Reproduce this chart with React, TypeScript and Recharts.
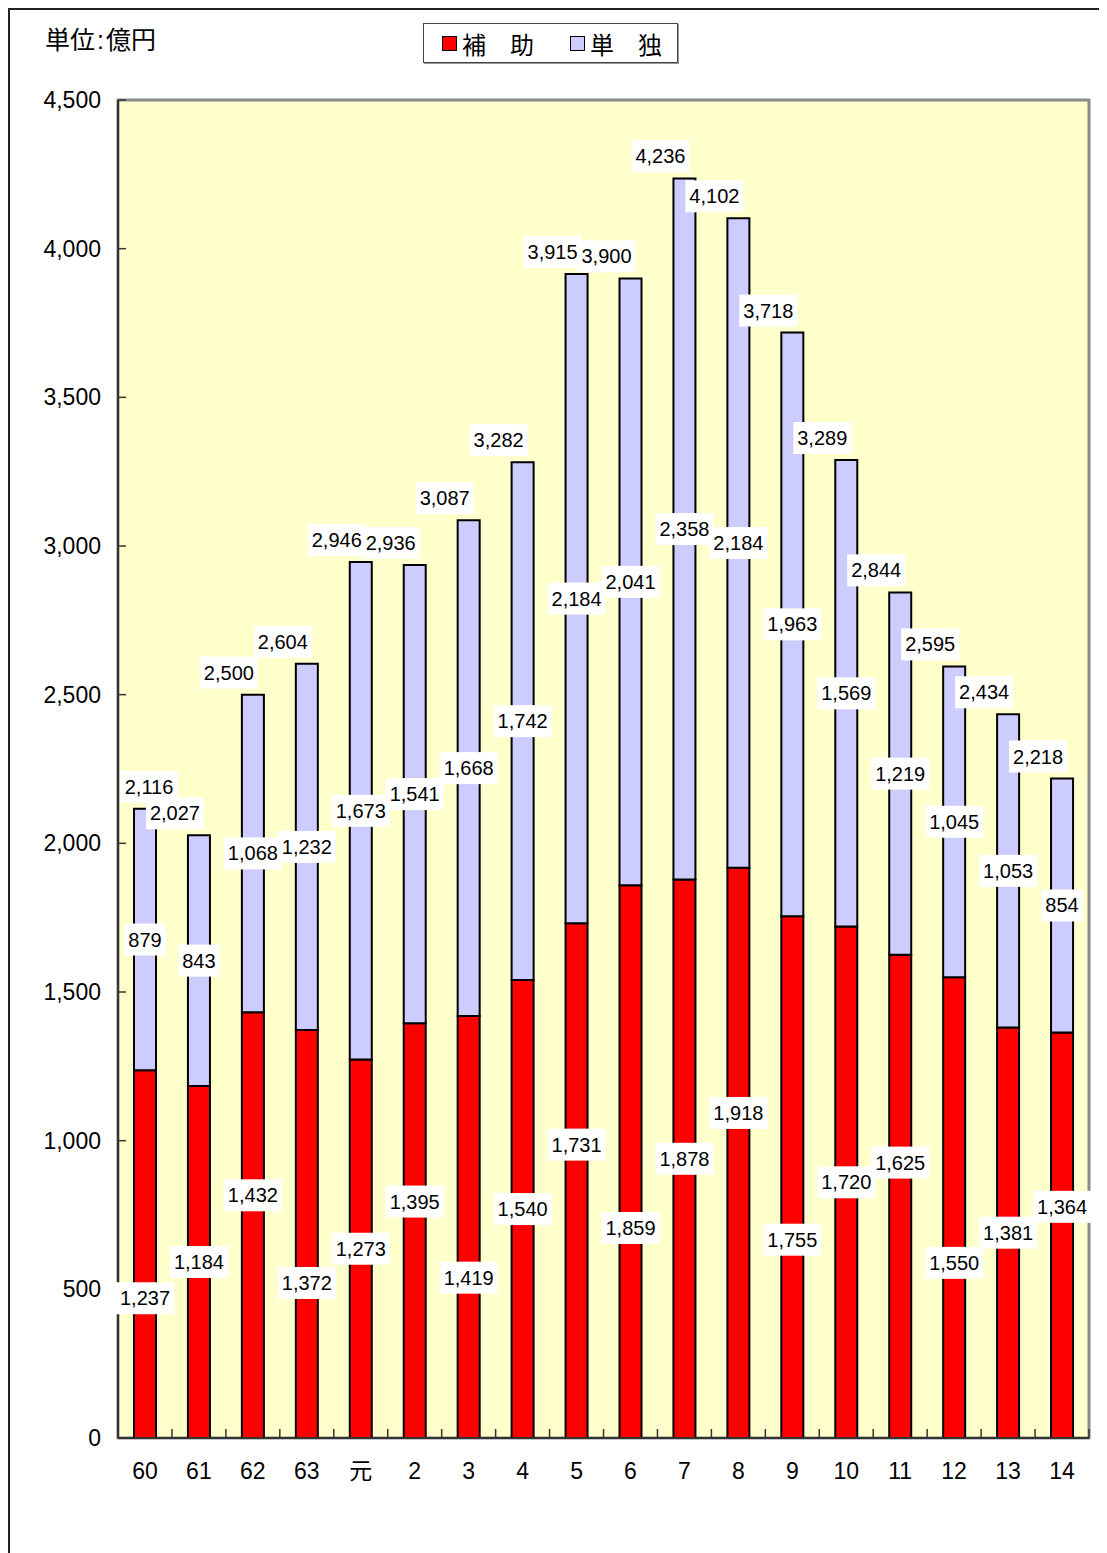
import React from 'react';
import { ComposedChart, Bar, XAxis, YAxis, CartesianGrid, LabelList, ReferenceArea } from 'recharts';

// fiscal years (昭和60〜平成14)
const categories = ['60', '61', '62', '63', '元', '2', '3', '4', '5', '6', '7', '8', '9', '10', '11', '12', '13', '14'];
const hojo = [1237, 1184, 1432, 1372, 1273, 1395, 1419, 1540, 1731, 1859, 1878, 1918, 1755, 1720, 1625, 1550, 1381, 1364];
const tandoku = [879, 843, 1068, 1232, 1673, 1541, 1668, 1742, 2184, 2041, 2358, 2184, 1963, 1569, 1219, 1045, 1053, 854];
const totals = [2116, 2027, 2500, 2604, 2946, 2936, 3087, 3282, 3915, 3900, 4236, 4102, 3718, 3289, 2844, 2595, 2434, 2218];
const yTicks = [0, 500, 1000, 1500, 2000, 2500, 3000, 3500, 4000, 4500];

const data = categories.map((name, i) => ({
  name,
  hojo: hojo[i],
  tandoku: tandoku[i],
  total: totals[i],
}));

const W = 1099;
const H = 1545;
const M = { top: 92, right: 18, left: 0, bottom: 75 };
const Y_W = 110;
const X_H = 40;
const BAND = (W - M.left - M.right - Y_W) / categories.length;
const PLOT_LEFT = M.left + Y_W;

const FONT = '"Liberation Sans", Arial, "Noto Sans CJK JP", sans-serif';
const LABEL_SIZE = 20;
const fmt = (v: number) => v.toLocaleString('en-US');

const boxWidth = (s: string) => {
  let w = 0;
  for (const ch of s) w += ch === ',' ? 0.278 * LABEL_SIZE : 0.556 * LABEL_SIZE;
  return w + 8;
};

// part: draw the white box or the text, so no text is hidden by a neighbour's box
const BoxLabel = ({ cx, cy, text, part }: { cx: number; cy: number; text: string; part: string }) => {
  if (part === 'box') {
    const w = boxWidth(text);
    return <rect x={cx - w / 2} y={cy - 16} width={w} height={32} fill="#ffffff" />;
  }
  return (
    <text x={cx} y={cy} textAnchor="middle" dominantBaseline="central" fontSize={LABEL_SIZE} fill="#000" fontFamily={FONT}>
      {text}
    </text>
  );
};

const getBox = (p: any) => {
  const v = p.viewBox && p.viewBox.width !== undefined ? p.viewBox : p;
  const x = Number(v.x);
  const w = Number(v.width);
  const h = Math.abs(Number(v.height));
  const y = Number(v.height) < 0 ? Number(v.y) + Number(v.height) : Number(v.y);
  return { x, y, w, h };
};

// red labels are staggered to keep them apart
const stagger = [0.38, 0.5, 0.57];

const HojoLabel = (p: any) => {
  const { x, y, w, h } = getBox(p);
  const idx = Number(p.index) || 0;
  const cy = y + h - h * stagger[idx % 3];
  return <BoxLabel part={p.part} cx={x + w / 2} cy={cy} text={fmt(Number(p.value))} />;
};

const TandokuLabel = (p: any) => {
  const { x, y, w, h } = getBox(p);
  return <BoxLabel part={p.part} cx={x + w / 2} cy={y + h / 2} text={fmt(Number(p.value))} />;
};

const TotalLabel = (p: any) => {
  const { x, y, w } = getBox(p);
  const idx = Number(p.index) || 0;
  const text = fmt(totals[idx]);
  const half = boxWidth(text) / 2;
  const cx = Math.max(x + w / 2 - 24, PLOT_LEFT + half + 2);
  return <BoxLabel part={p.part} cx={cx} cy={y - 22} text={text} />;
};

const YTick = (p: any) => {
  const { x, y, payload } = p;
  return (
    <g>
      <line x1={x} x2={x + 8} y1={y} y2={y} stroke="#333" strokeWidth={1.5} />
      <text x={x - 17} y={y} textAnchor="end" dominantBaseline="central" fontSize={23} fill="#000" fontFamily={FONT}>
        {fmt(payload.value)}
      </text>
    </g>
  );
};

const XTick = (p: any) => {
  const { x, y, payload } = p;
  const idx = p.index ?? payload.index ?? 0;
  const last = idx === categories.length - 1;
  return (
    <g>
      {idx > 0 && <line x1={x - BAND / 2} x2={x - BAND / 2} y1={y} y2={y - 9} stroke="#333" strokeWidth={1.5} />}
      {last && <line x1={x + BAND / 2} x2={x + BAND / 2} y1={y} y2={y - 9} stroke="#333" strokeWidth={1.5} />}
      <text x={x} y={y + 33} textAnchor="middle" dominantBaseline="central" fontSize={23} fill="#000" fontFamily={FONT}>
        {payload.value}
      </text>
    </g>
  );
};

const Swatch = ({ color }: { color: string }) => (
  <span
    style={{
      display: 'inline-block',
      width: 13,
      height: 13,
      background: color,
      border: '1.5px solid #000',
      marginRight: 5,
    }}
  />
);

export default function App() {
  return (
    <div
      style={{
        position: 'relative',
        width: W,
        height: H,
        boxSizing: 'border-box',
        borderTop: '2px solid #222',
        borderLeft: '2px solid #222',
        fontFamily: FONT,
        background: '#fff',
      }}
    >
      <div style={{ position: 'absolute', left: 35, top: 15, fontSize: 25, lineHeight: '30px', color: '#000' }}>
        単位<span style={{ margin: '0 2px' }}>:</span>億円
      </div>

      {/* legend */}
      <div
        style={{
          position: 'absolute',
          left: 413,
          top: 13,
          width: 255,
          height: 40,
          boxSizing: 'border-box',
          border: '1.5px solid #444',
          boxShadow: '1px 1px 0 #999',
          display: 'flex',
          alignItems: 'center',
          paddingLeft: 18,
          fontSize: 24,
          zIndex: 2,
          background: '#fff',
        }}
      >
        <Swatch color="#ff0000" />
        <span>補　助</span>
        <span style={{ width: 36 }} />
        <Swatch color="#ccccff" />
        <span>単　独</span>
      </div>

      <div style={{ position: 'absolute', left: -2, top: -2 }}>
        <ComposedChart width={W} height={H} data={data} margin={M}>
          <CartesianGrid fill="#ffffcc" horizontal={false} vertical={false} />
          <ReferenceArea y1={0} y2={4500} fill="none" stroke="#8a8a8a" strokeWidth={3} />
          <XAxis
            dataKey="name"
            height={X_H}
            interval={0}
            tickLine={false}
            tickSize={0}
            tickMargin={0}
            axisLine={{ stroke: '#333', strokeWidth: 2 }}
            tick={<XTick />}
          />
          <YAxis
            width={Y_W}
            domain={[0, 4500]}
            ticks={yTicks}
            interval={0}
            tickLine={false}
            tickSize={0}
            tickMargin={0}
            axisLine={{ stroke: '#333', strokeWidth: 2 }}
            tick={<YTick />}
          />
          <Bar dataKey="hojo" stackId="a" fill="#ff0000" stroke="#000" strokeWidth={2} barSize={22} isAnimationActive={false}>
            <LabelList dataKey="hojo" content={<HojoLabel part="box" />} />
            <LabelList dataKey="hojo" content={<HojoLabel part="text" />} />
          </Bar>
          <Bar dataKey="tandoku" stackId="a" fill="#ccccff" stroke="#000" strokeWidth={2} barSize={22} isAnimationActive={false}>
            <LabelList dataKey="tandoku" content={<TandokuLabel part="box" />} />
            <LabelList dataKey="total" content={<TotalLabel part="box" />} />
            <LabelList dataKey="tandoku" content={<TandokuLabel part="text" />} />
            <LabelList dataKey="total" content={<TotalLabel part="text" />} />
          </Bar>
        </ComposedChart>
      </div>
    </div>
  );
}
